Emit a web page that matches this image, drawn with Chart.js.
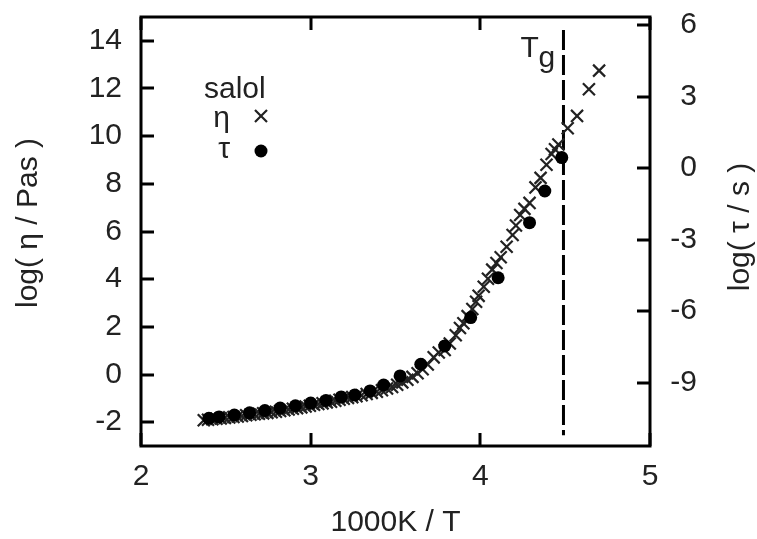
<!DOCTYPE html>
<html>
<head>
<meta charset="utf-8">
<script src="https://cdn.jsdelivr.net/npm/chart.js@4.4.1/dist/chart.umd.min.js"></script>
<style>
  html, body { margin: 0; padding: 0; background: #fff; }
  #wrap { width: 757px; height: 539px; }
</style>
</head>
<body>
<div id="wrap"><canvas id="c" width="757" height="539"></canvas></div>
<script>
// ── Data ──────────────────────────────────────────────────────────────────
// salol: viscosity log(eta / Pa s) and relaxation time log(tau / s) vs 1000K/T

var ETA_X = [
  2.37, 2.395, 2.42, 2.445, 2.47, 2.495, 2.52, 2.545, 2.57, 2.595,
  2.62, 2.645, 2.67, 2.695, 2.72, 2.745, 2.77, 2.795, 2.82, 2.845,
  2.87, 2.895, 2.92, 2.945, 2.97, 2.995, 3.02, 3.045, 3.07, 3.095,
  3.12, 3.145, 3.17, 3.195, 3.22, 3.245, 3.27, 3.30, 3.33, 3.36,
  3.39, 3.42, 3.45, 3.48, 3.51, 3.54, 3.57, 3.60, 3.63, 3.66,
  3.69, 3.725, 3.755, 3.79, 3.82, 3.855, 3.88, 3.90, 3.925, 3.953,
  3.975, 3.99, 4.02, 4.045, 4.07, 4.095, 4.12, 4.155, 4.19, 4.21,
  4.235, 4.26, 4.29, 4.325, 4.355, 4.39, 4.42, 4.44, 4.46, 4.515,
  4.57, 4.64, 4.70
];
var ETA_LOG = [
  -1.92, -1.90, -1.88, -1.86, -1.84, -1.82, -1.80, -1.78, -1.76, -1.74,
  -1.71, -1.69, -1.67, -1.65, -1.63, -1.61, -1.58, -1.56, -1.53, -1.50,
  -1.47, -1.44, -1.41, -1.38, -1.34, -1.31, -1.27, -1.24, -1.21, -1.17,
  -1.14, -1.10, -1.06, -1.02, -0.98, -0.95, -0.91, -0.87, -0.82, -0.77,
  -0.72, -0.66, -0.59, -0.52, -0.43, -0.33, -0.22, -0.10, 0.05, 0.22,
  0.42, 0.72, 0.92, 1.03, 1.30, 1.65, 1.95, 2.15, 2.45, 2.75,
  3.05, 3.30, 3.68, 4.02, 4.40, 4.68, 4.92, 5.36, 5.85, 6.25,
  6.69, 6.95, 7.20, 7.85, 8.25, 8.80, 9.25, 9.45, 9.65, 10.33,
  10.85, 11.97, 12.75
];

var TAU_X = [
  2.40, 2.46, 2.55, 2.64, 2.73, 2.82, 2.91, 3.00, 3.09, 3.18,
  3.26, 3.35, 3.43, 3.527, 3.649, 3.79, 3.943, 4.105, 4.29, 4.38,
  4.48
];
var TAU_LOG = [
  -10.50, -10.44, -10.36, -10.27, -10.17, -10.07, -9.97, -9.86, -9.75, -9.60,
  -9.52, -9.35, -9.10, -8.72, -8.23, -7.46, -6.27, -4.60, -2.29, -0.96,
  0.44
];

var X_TICKS   = [2, 3, 4, 5];
var ETA_TICKS = [-2, 0, 2, 4, 6, 8, 10, 12, 14];
var TAU_TICKS = [-9, -6, -3, 0, 3, 6];

var X_MIN = 2, X_MAX = 5;
var ETA_MIN = -3, ETA_MAX = 15;
var TAU_MIN = -11.66, TAU_MAX = 6.34;

// glass transition marker
var T_G = 4.49;
var TG_LINE = [14.45, -2.55];

// ── Styling ───────────────────────────────────────────────────────────────
var FONT_FAMILY = '"Liberation Sans", Arial, Helvetica, sans-serif';
var FONT_SIZE   = 30;
var TEXT_COL    = '#222';
var TICK_LEN    = 13;

var CROSS_STYLE = { pointStyle: 'crossRot', radius: 8.5, borderWidth: 2.2, rotation: 0 };
var DOT_STYLE   = { pointStyle: 'circle', radius: 6.5, borderWidth: 0, rotation: 0 };

function toPoints(xs, ys) {
  return xs.map(function(x, i) { return { x: x, y: ys[i] }; });
}

function marker(ctx, style, x, y, color) {
  ctx.fillStyle = color;
  ctx.strokeStyle = color;
  ctx.lineWidth = style.borderWidth;
  if (Chart.helpers && Chart.helpers.drawPoint) {
    Chart.helpers.drawPoint(ctx, style, x, y);
  } else {
    ctx.beginPath();
    if (style.pointStyle === 'circle') {
      ctx.arc(x, y, style.radius, 0, Math.PI * 2);
      ctx.fill();
    } else {
      var o = style.radius * Math.SQRT1_2;
      ctx.moveTo(x - o, y - o); ctx.lineTo(x + o, y + o);
      ctx.moveTo(x - o, y + o); ctx.lineTo(x + o, y - o);
      ctx.stroke();
    }
  }
}

function verticalText(ctx, text, x, y) {
  ctx.save();
  ctx.translate(x, y);
  ctx.rotate(-Math.PI / 2);
  ctx.textAlign = 'center';
  ctx.textBaseline = 'middle';
  ctx.fillText(text, 0, 0);
  ctx.restore();
}

// Frame with inward ticks, y titles, key and Tg label
var framePlugin = {
  id: 'frame',
  afterDatasetsDraw: function(chart) {
    var ctx = chart.ctx, a = chart.chartArea;
    var sx = chart.scales.x, sy = chart.scales.y, sy2 = chart.scales.y2;
    ctx.save();

    ctx.strokeStyle = '#000';
    ctx.lineWidth = 3;
    ctx.strokeRect(a.left, a.top, a.right - a.left, a.bottom - a.top);

    ctx.beginPath();
    X_TICKS.forEach(function(v) {
      var px = Math.round(sx.getPixelForValue(v));
      ctx.moveTo(px, a.top);    ctx.lineTo(px, a.top + TICK_LEN);
      ctx.moveTo(px, a.bottom); ctx.lineTo(px, a.bottom - TICK_LEN);
    });
    ETA_TICKS.forEach(function(v) {
      var py = Math.round(sy.getPixelForValue(v));
      ctx.moveTo(a.left, py); ctx.lineTo(a.left + TICK_LEN, py);
    });
    TAU_TICKS.forEach(function(v) {
      var py = Math.round(sy2.getPixelForValue(v));
      ctx.moveTo(a.right, py); ctx.lineTo(a.right - TICK_LEN, py);
    });
    ctx.stroke();

    ctx.font = FONT_SIZE + 'px ' + FONT_FAMILY;
    ctx.fillStyle = TEXT_COL;

    // both y titles read upwards
    verticalText(ctx, 'log( \u03b7 / Pas )', 29, 223);
    verticalText(ctx, 'log( \u03c4 / s )', 741, 227);

    // key
    ctx.textBaseline = 'alphabetic';
    ctx.textAlign = 'left';
    ctx.fillText('salol', a.left + 63, 98);
    ctx.textAlign = 'right';
    ctx.fillText('\u03b7', a.left + 89, 127);
    ctx.fillText('\u03c4', a.left + 89, 158);
    marker(ctx, CROSS_STYLE, a.left + 120, 116, '#222');
    marker(ctx, DOT_STYLE, a.left + 120, 151, '#000');

    // Tg label next to the dashed line
    var tgX = sx.getPixelForValue(T_G);
    ctx.fillStyle = TEXT_COL;
    ctx.textAlign = 'left';
    ctx.fillText('T', tgX - 43, 57);
    ctx.fillText('g', tgX - 25, 67);

    ctx.restore();
  }
};

// fixed axis sizes, and no extra room for the outermost tick labels
function fitY(w) {
  return function(scale) {
    scale.width = w;
    scale.paddingTop = 0;
    scale.paddingBottom = 0;
  };
}
function fitX(h) {
  return function(scale) {
    scale.height = h;
    scale.paddingLeft = 0;
    scale.paddingRight = 0;
  };
}
function setTicks(list) {
  return function(scale) { scale.ticks = list.map(function(v) { return { value: v }; }); };
}

var tickFont = { family: FONT_FAMILY, size: FONT_SIZE, lineHeight: 1.2 };
var titleFont = { family: FONT_FAMILY, size: FONT_SIZE, lineHeight: 1.1 };

new Chart(document.getElementById('c'), {
  type: 'scatter',
  data: {
    datasets: [
      {
        label: '\u03c4',
        data: toPoints(TAU_X, TAU_LOG),
        yAxisID: 'y2',
        pointStyle: DOT_STYLE.pointStyle,
        pointRadius: DOT_STYLE.radius,
        backgroundColor: '#000',
        borderColor: '#000',
        borderWidth: 0,
        showLine: false
      },
      {
        label: '\u03b7',
        data: toPoints(ETA_X, ETA_LOG),
        yAxisID: 'y',
        pointStyle: CROSS_STYLE.pointStyle,
        pointRadius: CROSS_STYLE.radius,
        backgroundColor: '#222',
        borderColor: '#222',
        borderWidth: CROSS_STYLE.borderWidth,
        showLine: false
      },
      {
        label: 'Tg',
        type: 'line',
        data: [{ x: T_G, y: TG_LINE[0] }, { x: T_G, y: TG_LINE[1] }],
        yAxisID: 'y',
        borderColor: '#000',
        borderWidth: 3,
        borderDash: [20, 5],
        pointRadius: 0,
        fill: false
      }
    ]
  },
  options: {
    responsive: false,
    animation: false,
    devicePixelRatio: 1,
    events: [],
    layout: { padding: { top: 17, left: 0, right: 60, bottom: 0 } },
    plugins: { legend: { display: false }, tooltip: { enabled: false } },
    scales: {
      x: {
        type: 'linear',
        min: X_MIN, max: X_MAX,
        afterBuildTicks: setTicks(X_TICKS),
        afterFit: fitX(93),
        grid: { display: false, drawTicks: false },
        border: { display: false },
        ticks: { font: tickFont, color: TEXT_COL, padding: 13, maxRotation: 0 },
        title: { display: true, text: '1000K / T', font: titleFont, color: TEXT_COL, padding: { top: 0, bottom: 0 } }
      },
      y: {
        type: 'linear', position: 'left',
        min: ETA_MIN, max: ETA_MAX,
        afterBuildTicks: setTicks(ETA_TICKS),
        afterFit: fitY(141),
        grid: { display: false, drawTicks: false },
        border: { display: false },
        ticks: { font: tickFont, color: TEXT_COL, padding: 19 }
      },
      y2: {
        type: 'linear', position: 'right',
        min: TAU_MIN, max: TAU_MAX,
        afterBuildTicks: setTicks(TAU_TICKS),
        afterFit: fitY(47),
        grid: { display: false, drawTicks: false },
        border: { display: false },
        ticks: { font: tickFont, color: TEXT_COL, padding: 21, crossAlign: 'far' }
      }
    }
  },
  plugins: [framePlugin]
});
</script>
</body>
</html>
